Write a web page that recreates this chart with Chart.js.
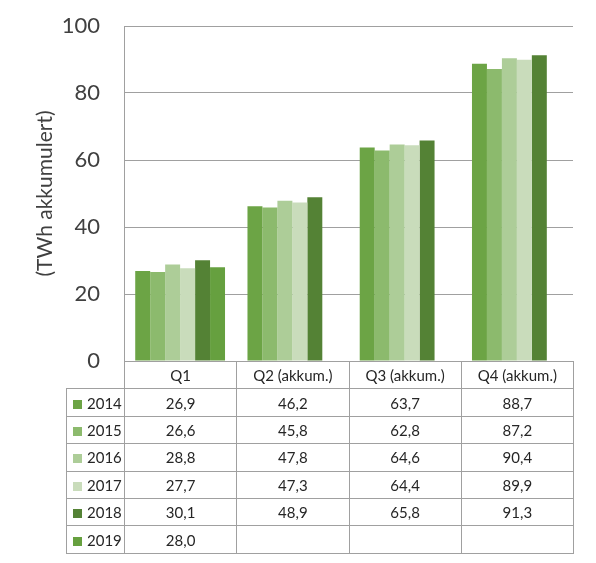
<!DOCTYPE html>
<html>
<head>
<meta charset="utf-8">
<script src="https://cdn.jsdelivr.net/npm/chart.js@4/dist/chart.umd.min.js"></script>
<style>
  body { margin: 0; background: #fff; }
  #wrap { position: relative; width: 596px; height: 563px; }
  #dataTable {
    position: absolute;
    border-collapse: collapse;
    font-family: Lato, "Liberation Sans", sans-serif;
    font-size: 15px;
    color: #262626;
    table-layout: fixed;
  }
  #dataTable td {
    border: 1px solid #a0a0a0;
    text-align: center;
    padding: 0;
    height: 26.4px;
    white-space: nowrap;
  }
  #dataTable td.corner { border: none; border-right: 1px solid #a0a0a0; }
  #dataTable td.year { text-align: left; padding-left: 6px; }
  .mark { display: inline-block; width: 9px; height: 9px; margin-right: 5px; vertical-align: 0px; }
</style>
</head>
<body>
<div id="wrap">
  <canvas id="energyChart" width="596" height="563"></canvas>
  <table id="dataTable"></table>
</div>
<script>
const categories = ["Q1", "Q2 (akkum.)", "Q3 (akkum.)", "Q4 (akkum.)"];
const years = ["2014", "2015", "2016", "2017", "2018", "2019"];
const values2014 = [26.9, 46.2, 63.7, 88.7];
const values2015 = [26.6, 45.8, 62.8, 87.2];
const values2016 = [28.8, 47.8, 64.6, 90.4];
const values2017 = [27.7, 47.3, 64.4, 89.9];
const values2018 = [30.1, 48.9, 65.8, 91.3];
const values2019 = [28.0, null, null, null];
const yTicks = [0, 20, 40, 60, 80, 100];

const seriesValues = [values2014, values2015, values2016, values2017, values2018, values2019];
const colors = ["#6ca445", "#8cba6d", "#adcd98", "#c9dcbb", "#548235", "#66a03f"];

function createChart() {
  const ctx = document.getElementById("energyChart").getContext("2d");
  return new Chart(ctx, {
    type: "bar",
    data: {
      labels: categories,
      datasets: years.map((y, i) => ({
        label: y,
        data: seriesValues[i],
        backgroundColor: colors[i],
        borderWidth: 0,
      })),
    },
    options: {
      responsive: false,
      animation: false,
      layout: { padding: { left: 33, right: 23, top: 26, bottom: 202 } },
      datasets: { bar: { categoryPercentage: 0.8, barPercentage: 1.0 } },
      plugins: { legend: { display: false }, tooltip: { enabled: false } },
      scales: {
        x: { display: false },
        y: {
          min: 0,
          max: 100,
          afterBuildTicks: (s) => { s.ticks = yTicks.map((v) => ({ value: v })); },
          afterFit: (s) => {
            s.width = 91;
            s.paddingTop = 0;
            s.paddingBottom = 0;
          },
          ticks: {
            padding: 24,
            color: "#404040",
            font: { family: "Lato, 'Liberation Sans', sans-serif", size: 22 },
          },
          grid: { color: "#a0a0a0", drawTicks: false, lineWidth: 1 },
          border: { display: true, color: "#a0a0a0" },
          title: {
            display: true,
            text: "(TWh akkumulert)",
            color: "#404040",
            padding: 0,
            font: { family: "Lato, 'Liberation Sans', sans-serif", size: 21 },
          },
        },
      },
    },
  });
}

function buildTable(chart) {
  const area = chart.chartArea;
  const table = document.getElementById("dataTable");
  const tableLeft = 66;
  const colW = (area.right - area.left) / categories.length;
  table.style.left = tableLeft + "px";
  table.style.top = Math.round(area.bottom) + "px";

  let html = "<colgroup><col style='width:" + (area.left - tableLeft) + "px'>";
  categories.forEach(() => { html += "<col style='width:" + colW + "px'>"; });
  html += "</colgroup>";
  html += "<tr><td class='corner'></td>";
  categories.forEach((c) => { html += "<td>" + c + "</td>"; });
  html += "</tr>";
  years.forEach((y, i) => {
    html += "<tr><td class='year'><span class='mark' style='background:" + colors[i] + "'></span>" + y + "</td>";
    seriesValues[i].forEach((v) => {
      html += "<td>" + (v == null ? "" : v.toFixed(1).replace(".", ",")) + "</td>";
    });
    html += "</tr>";
  });
  table.innerHTML = html;
}

const chart = createChart();
buildTable(chart);
</script>
</body>
</html>
